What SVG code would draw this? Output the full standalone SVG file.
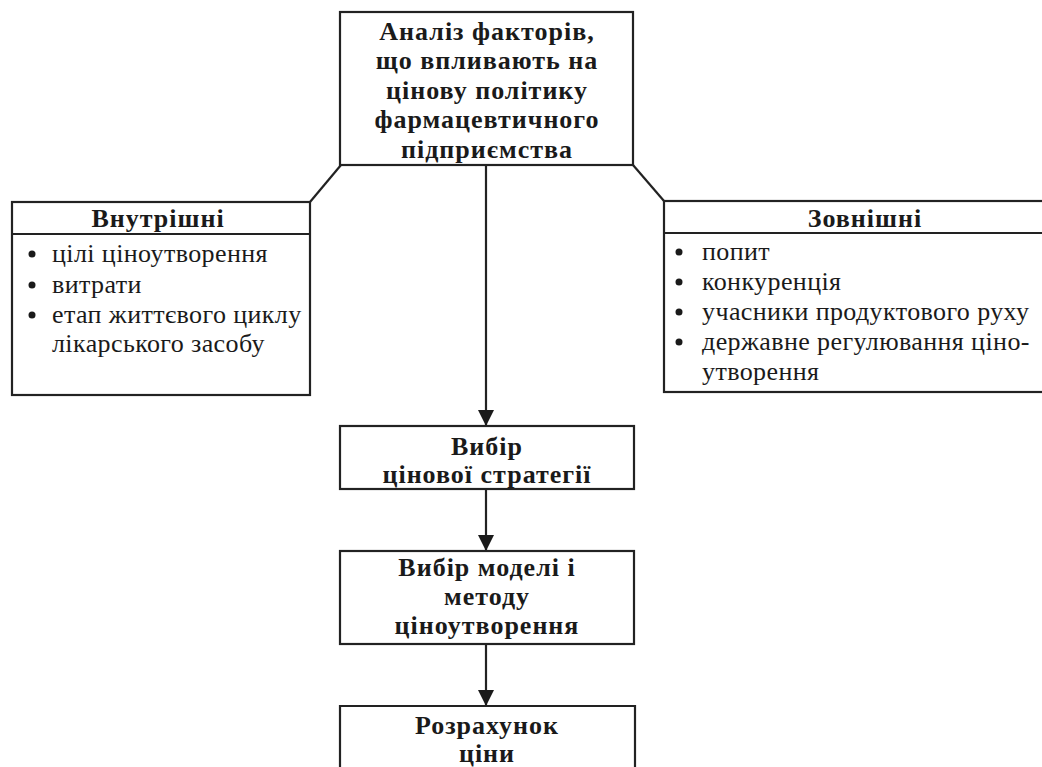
<svg xmlns="http://www.w3.org/2000/svg" width="1042" height="767" viewBox="0 0 1042 767">
  <style>
    .box { fill: #ffffff; stroke: #222222; stroke-width: 2.2; }
    .line { fill: none; stroke: #222222; stroke-width: 2.2; }
    .title { font-family: "Liberation Serif", "Times New Roman", serif; font-weight: bold; font-size: 26px; fill: #1a1a1a; text-anchor: middle; letter-spacing: 1px; }
    .item { font-family: "Liberation Serif", "Times New Roman", serif; font-size: 26px; fill: #1a1a1a; letter-spacing: 0.4px; }
    .dot { fill: #1a1a1a; }
  </style>
  <defs>
    <marker id="arrow" viewBox="0 0 16 16" markerWidth="16" markerHeight="16" refX="16" refY="8" orient="auto" markerUnits="userSpaceOnUse">
      <path d="M0,0 L16,8 L0,16 Z" fill="#1a1a1a"/>
    </marker>
  </defs>
  <rect width="1042" height="767" fill="#ffffff"/>

  <!-- connectors -->
  <g id="connectors">
    <line class="line" x1="341" y1="165" x2="310" y2="202"/>
    <line class="line" x1="633" y1="165" x2="664" y2="201"/>
    <line class="line" x1="486" y1="165" x2="486" y2="426" marker-end="url(#arrow)"/>
    <line class="line" x1="486" y1="489" x2="486" y2="551" marker-end="url(#arrow)"/>
    <line class="line" x1="486" y1="644" x2="486" y2="706" marker-end="url(#arrow)"/>
  </g>

  <!-- top node -->
  <g id="node-analysis">
    <rect class="box" x="340" y="12" width="293" height="153"/>
    <text class="title" x="487" y="40">Аналіз факторів,</text>
    <text class="title" x="487" y="69">що впливають на</text>
    <text class="title" x="487" y="99">цінову політику</text>
    <text class="title" x="487" y="128">фармацевтичного</text>
    <text class="title" x="487" y="158">підприємства</text>
  </g>

  <!-- internal factors -->
  <g id="node-internal">
    <rect class="box" x="12" y="202" width="298" height="193"/>
    <line class="line" x1="12" y1="234" x2="310" y2="234"/>
    <text class="title" x="158" y="227">Внутрішні</text>
    <circle class="dot" cx="32" cy="254" r="3.5"/>
    <text class="item" x="52" y="262">цілі ціноутворення</text>
    <circle class="dot" cx="32" cy="285" r="3.5"/>
    <text class="item" x="52" y="293">витрати</text>
    <circle class="dot" cx="32" cy="315" r="3.5"/>
    <text class="item" x="52" y="323">етап життєвого циклу</text>
    <text class="item" x="52" y="352">лікарського засобу</text>
  </g>

  <!-- external factors -->
  <g id="node-external">
    <rect class="box" x="664" y="201" width="400" height="191"/>
    <line class="line" x1="664" y1="233" x2="1064" y2="233"/>
    <text class="title" x="865" y="227">Зовнішні</text>
    <circle class="dot" cx="679" cy="252" r="3.5"/>
    <text class="item" x="702" y="260">попит</text>
    <circle class="dot" cx="679" cy="282" r="3.5"/>
    <text class="item" x="702" y="290">конкуренція</text>
    <circle class="dot" cx="679" cy="312" r="3.5"/>
    <text class="item" x="702" y="320">учасники продуктового руху</text>
    <circle class="dot" cx="679" cy="342" r="3.5"/>
    <text class="item" x="702" y="350">державне регулювання ціно-</text>
    <text class="item" x="702" y="380">утворення</text>
  </g>

  <!-- strategy -->
  <g id="node-strategy">
    <rect class="box" x="340" y="426" width="294" height="63"/>
    <text class="title" x="487" y="455">Вибір</text>
    <text class="title" x="487" y="483">цінової стратегії</text>
  </g>

  <!-- model and method -->
  <g id="node-model">
    <rect class="box" x="340" y="551" width="294" height="93"/>
    <text class="title" x="487" y="576">Вибір моделі і</text>
    <text class="title" x="487" y="605">методу</text>
    <text class="title" x="487" y="634">ціноутворення</text>
  </g>

  <!-- price calculation -->
  <g id="node-price">
    <path class="line" d="M340,770 V706 H635 V770"/>
    <text class="title" x="487" y="734">Розрахунок</text>
    <text class="title" x="487" y="762">ціни</text>
  </g>
</svg>
